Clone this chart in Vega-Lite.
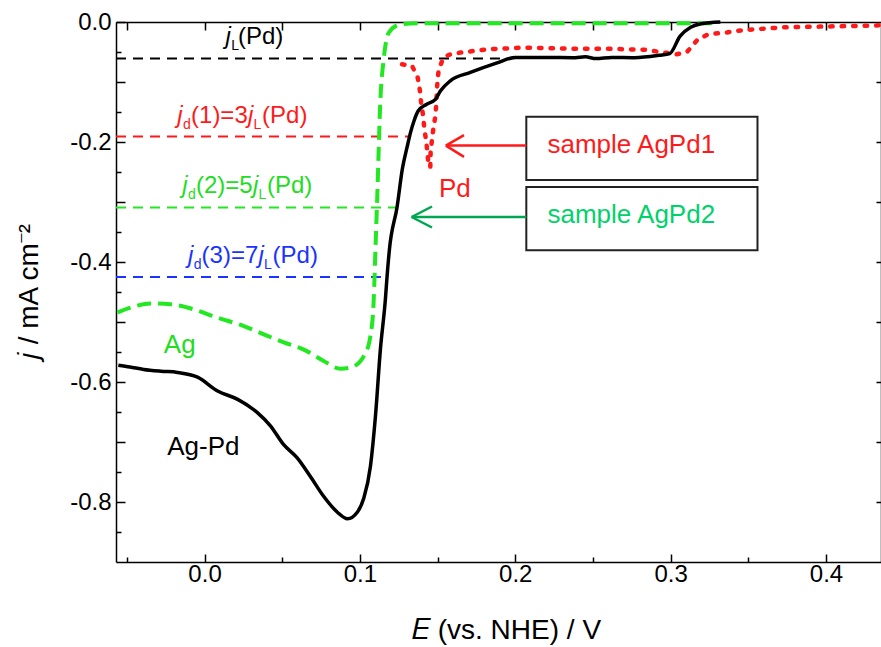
{
  "$schema": "https://vega.github.io/schema/vega-lite/v6.json",
  "width": 765,
  "height": 540,
  "autosize": "none",
  "padding": {"left": 116, "top": 22, "right": 0, "bottom": 85},
  "background": "white",
  "config": {
    "view": {"stroke": null},
    "axis": {"labelFont": "Liberation Sans", "titleFont": "Liberation Sans", "labelColor": "#000", "titleColor": "#000", "domainColor": "#000", "tickColor": "#000", "domainWidth": 1.5, "tickWidth": 1.5, "grid": false, "titleFontWeight": "normal"},
    "text": {"font": "Liberation Sans"}
  },
  "datasets": {
    "curves": [
      {"s": "Ag-Pd", "i": 1, "v": -0.0555, "j": -0.572},
      {"s": "Ag-Pd", "i": 2, "v": -0.048, "j": -0.575},
      {"s": "Ag-Pd", "i": 3, "v": -0.0392, "j": -0.579},
      {"s": "Ag-Pd", "i": 4, "v": -0.028, "j": -0.582},
      {"s": "Ag-Pd", "i": 5, "v": -0.0174, "j": -0.584},
      {"s": "Ag-Pd", "i": 6, "v": -0.0045, "j": -0.592},
      {"s": "Ag-Pd", "i": 7, "v": 0.0084, "j": -0.615},
      {"s": "Ag-Pd", "i": 8, "v": 0.0213, "j": -0.629},
      {"s": "Ag-Pd", "i": 9, "v": 0.034, "j": -0.651},
      {"s": "Ag-Pd", "i": 10, "v": 0.0424, "j": -0.673},
      {"s": "Ag-Pd", "i": 11, "v": 0.0508, "j": -0.704},
      {"s": "Ag-Pd", "i": 12, "v": 0.0595, "j": -0.726},
      {"s": "Ag-Pd", "i": 13, "v": 0.068, "j": -0.757},
      {"s": "Ag-Pd", "i": 14, "v": 0.0765, "j": -0.79},
      {"s": "Ag-Pd", "i": 15, "v": 0.0855, "j": -0.817},
      {"s": "Ag-Pd", "i": 16, "v": 0.092, "j": -0.828},
      {"s": "Ag-Pd", "i": 17, "v": 0.0983, "j": -0.817},
      {"s": "Ag-Pd", "i": 18, "v": 0.1023, "j": -0.795},
      {"s": "Ag-Pd", "i": 19, "v": 0.1068, "j": -0.74},
      {"s": "Ag-Pd", "i": 20, "v": 0.11, "j": -0.657},
      {"s": "Ag-Pd", "i": 21, "v": 0.1132, "j": -0.545},
      {"s": "Ag-Pd", "i": 22, "v": 0.1164, "j": -0.462},
      {"s": "Ag-Pd", "i": 23, "v": 0.1175, "j": -0.423},
      {"s": "Ag-Pd", "i": 24, "v": 0.119, "j": -0.379},
      {"s": "Ag-Pd", "i": 25, "v": 0.124, "j": -0.307},
      {"s": "Ag-Pd", "i": 26, "v": 0.1273, "j": -0.245},
      {"s": "Ag-Pd", "i": 27, "v": 0.1305, "j": -0.207},
      {"s": "Ag-Pd", "i": 28, "v": 0.1326, "j": -0.184},
      {"s": "Ag-Pd", "i": 29, "v": 0.1348, "j": -0.165},
      {"s": "Ag-Pd", "i": 30, "v": 0.1376, "j": -0.148},
      {"s": "Ag-Pd", "i": 31, "v": 0.143, "j": -0.137},
      {"s": "Ag-Pd", "i": 32, "v": 0.1486, "j": -0.129},
      {"s": "Ag-Pd", "i": 33, "v": 0.1518, "j": -0.115},
      {"s": "Ag-Pd", "i": 34, "v": 0.1582, "j": -0.098},
      {"s": "Ag-Pd", "i": 35, "v": 0.1711, "j": -0.084},
      {"s": "Ag-Pd", "i": 36, "v": 0.1883, "j": -0.068},
      {"s": "Ag-Pd", "i": 37, "v": 0.2, "j": -0.059},
      {"s": "Ag-Pd", "i": 38, "v": 0.22, "j": -0.059},
      {"s": "Ag-Pd", "i": 39, "v": 0.2386, "j": -0.0595},
      {"s": "Ag-Pd", "i": 40, "v": 0.245, "j": -0.058},
      {"s": "Ag-Pd", "i": 41, "v": 0.252, "j": -0.061},
      {"s": "Ag-Pd", "i": 42, "v": 0.262, "j": -0.059},
      {"s": "Ag-Pd", "i": 43, "v": 0.2768, "j": -0.0595},
      {"s": "Ag-Pd", "i": 44, "v": 0.2926, "j": -0.0555},
      {"s": "Ag-Pd", "i": 45, "v": 0.2994, "j": -0.0527},
      {"s": "Ag-Pd", "i": 46, "v": 0.3061, "j": -0.0235},
      {"s": "Ag-Pd", "i": 47, "v": 0.3129, "j": -0.0088},
      {"s": "Ag-Pd", "i": 48, "v": 0.3196, "j": -0.003},
      {"s": "Ag-Pd", "i": 49, "v": 0.332, "j": 0},
      {"s": "Ag", "i": 1, "v": -0.0561, "j": -0.484},
      {"s": "Ag", "i": 2, "v": -0.0476, "j": -0.476},
      {"s": "Ag", "i": 3, "v": -0.0347, "j": -0.469},
      {"s": "Ag", "i": 4, "v": -0.0219, "j": -0.4705},
      {"s": "Ag", "i": 5, "v": -0.0069, "j": -0.479},
      {"s": "Ag", "i": 6, "v": 0.0082, "j": -0.4927},
      {"s": "Ag", "i": 7, "v": 0.0253, "j": -0.5067},
      {"s": "Ag", "i": 8, "v": 0.0381, "j": -0.5205},
      {"s": "Ag", "i": 9, "v": 0.051, "j": -0.534},
      {"s": "Ag", "i": 10, "v": 0.0639, "j": -0.546},
      {"s": "Ag", "i": 11, "v": 0.0767, "j": -0.565},
      {"s": "Ag", "i": 12, "v": 0.0875, "j": -0.578},
      {"s": "Ag", "i": 13, "v": 0.0939, "j": -0.576},
      {"s": "Ag", "i": 14, "v": 0.1025, "j": -0.557},
      {"s": "Ag", "i": 15, "v": 0.1068, "j": -0.523},
      {"s": "Ag", "i": 16, "v": 0.1089, "j": -0.462},
      {"s": "Ag", "i": 17, "v": 0.11, "j": -0.379},
      {"s": "Ag", "i": 18, "v": 0.1111, "j": -0.296},
      {"s": "Ag", "i": 19, "v": 0.1132, "j": -0.129},
      {"s": "Ag", "i": 20, "v": 0.1153, "j": -0.062},
      {"s": "Ag", "i": 21, "v": 0.1185, "j": -0.018},
      {"s": "Ag", "i": 22, "v": 0.126, "j": -0.004},
      {"s": "Ag", "i": 23, "v": 0.1368, "j": -0.002},
      {"s": "Ag", "i": 24, "v": 0.33, "j": -0.002},
      {"s": "Pd", "i": 1, "v": 0.1271, "j": -0.0705},
      {"s": "Pd", "i": 2, "v": 0.1336, "j": -0.0733},
      {"s": "Pd", "i": 3, "v": 0.1372, "j": -0.0927},
      {"s": "Pd", "i": 4, "v": 0.1385, "j": -0.1122},
      {"s": "Pd", "i": 5, "v": 0.1394, "j": -0.1343},
      {"s": "Pd", "i": 6, "v": 0.1407, "j": -0.1567},
      {"s": "Pd", "i": 7, "v": 0.1415, "j": -0.1788},
      {"s": "Pd", "i": 8, "v": 0.1428, "j": -0.201},
      {"s": "Pd", "i": 9, "v": 0.1436, "j": -0.2233},
      {"s": "Pd", "i": 10, "v": 0.1443, "j": -0.24},
      {"s": "Pd", "i": 11, "v": 0.1453, "j": -0.2422},
      {"s": "Pd", "i": 12, "v": 0.1455, "j": -0.2177},
      {"s": "Pd", "i": 13, "v": 0.1464, "j": -0.1955},
      {"s": "Pd", "i": 14, "v": 0.1475, "j": -0.1733},
      {"s": "Pd", "i": 15, "v": 0.1486, "j": -0.1567},
      {"s": "Pd", "i": 16, "v": 0.1492, "j": -0.1343},
      {"s": "Pd", "i": 17, "v": 0.1497, "j": -0.1067},
      {"s": "Pd", "i": 18, "v": 0.1507, "j": -0.0788},
      {"s": "Pd", "i": 19, "v": 0.1539, "j": -0.0593},
      {"s": "Pd", "i": 20, "v": 0.1582, "j": -0.0538},
      {"s": "Pd", "i": 21, "v": 0.1646, "j": -0.051},
      {"s": "Pd", "i": 22, "v": 0.1732, "j": -0.0483},
      {"s": "Pd", "i": 23, "v": 0.1818, "j": -0.0455},
      {"s": "Pd", "i": 24, "v": 0.1925, "j": -0.0443},
      {"s": "Pd", "i": 25, "v": 0.2053, "j": -0.0427},
      {"s": "Pd", "i": 26, "v": 0.2386, "j": -0.0447},
      {"s": "Pd", "i": 27, "v": 0.2611, "j": -0.0447},
      {"s": "Pd", "i": 28, "v": 0.2836, "j": -0.0463},
      {"s": "Pd", "i": 29, "v": 0.2971, "j": -0.0513},
      {"s": "Pd", "i": 30, "v": 0.3039, "j": -0.0538},
      {"s": "Pd", "i": 31, "v": 0.3106, "j": -0.0497},
      {"s": "Pd", "i": 32, "v": 0.3174, "j": -0.0293},
      {"s": "Pd", "i": 33, "v": 0.3241, "j": -0.0205},
      {"s": "Pd", "i": 34, "v": 0.3354, "j": -0.0177},
      {"s": "Pd", "i": 35, "v": 0.3466, "j": -0.0135},
      {"s": "Pd", "i": 36, "v": 0.3736, "j": -0.0088},
      {"s": "Pd", "i": 37, "v": 0.3961, "j": -0.0077},
      {"s": "Pd", "i": 38, "v": 0.4277, "j": -0.006},
      {"s": "Pd", "i": 39, "v": 0.4354, "j": -0.0055}
    ],
    "hlines": [
      {"g": "jL", "v1": -0.057, "v2": 0.195, "j": -0.061},
      {"g": "jd1", "v1": -0.057, "v2": 0.1328, "j": -0.191},
      {"g": "jd2", "v1": -0.057, "v2": 0.1232, "j": -0.309},
      {"g": "jd3", "v1": -0.057, "v2": 0.1175, "j": -0.425}
    ],
    "ann_j": [
      {"g": "jL", "v": 0.0135, "j": -0.0365, "t": "j"},
      {"g": "jd1", "v": -0.0175, "j": -0.1685, "t": "j"},
      {"g": "jd1", "v": 0.028, "j": -0.1685, "t": "j"},
      {"g": "jd2", "v": -0.0143, "j": -0.2848, "t": "j"},
      {"g": "jd2", "v": 0.0312, "j": -0.2848, "t": "j"},
      {"g": "jd3", "v": -0.0107, "j": -0.4015, "t": "j"},
      {"g": "jd3", "v": 0.0348, "j": -0.4015, "t": "j"}
    ],
    "ann_sub": [
      {"g": "jL", "v": 0.0172, "j": -0.0463, "t": "L"},
      {"g": "jd1", "v": -0.0138, "j": -0.1782, "t": "d"},
      {"g": "jd1", "v": 0.0315, "j": -0.1782, "t": "L"},
      {"g": "jd2", "v": -0.0106, "j": -0.2948, "t": "d"},
      {"g": "jd2", "v": 0.0347, "j": -0.2948, "t": "L"},
      {"g": "jd3", "v": -0.007, "j": -0.4115, "t": "d"},
      {"g": "jd3", "v": 0.0383, "j": -0.4115, "t": "L"}
    ],
    "ann_main": [
      {"g": "jL", "v": 0.0215, "j": -0.0365, "t": "(Pd)"},
      {"g": "jd1", "v": -0.0087, "j": -0.1685, "t": "(1)=3"},
      {"g": "jd1", "v": 0.037, "j": -0.1685, "t": "(Pd)"},
      {"g": "jd2", "v": -0.0055, "j": -0.2848, "t": "(2)=5"},
      {"g": "jd2", "v": 0.0402, "j": -0.2848, "t": "(Pd)"},
      {"g": "jd3", "v": -0.0019, "j": -0.4015, "t": "(3)=7"},
      {"g": "jd3", "v": 0.0438, "j": -0.4015, "t": "(Pd)"}
    ],
    "curve_labels": [
      {"g": "Pd", "v": 0.1509, "j": -0.2918, "t": "Pd"},
      {"g": "Ag", "v": -0.0262, "j": -0.5515, "t": "Ag"},
      {"g": "Ag-Pd", "v": -0.024, "j": -0.721, "t": "Ag-Pd"}
    ],
    "boxes": [
      {"b": "AgPd1", "v1": 0.2071, "v2": 0.3559, "j1": -0.158, "j2": -0.2633},
      {"b": "AgPd2", "v1": 0.2071, "v2": 0.3559, "j1": -0.275, "j2": -0.3803}
    ],
    "box_labels": [
      {"g": "AgPd1", "v": 0.2207, "j": -0.2188, "t": "sample AgPd1"},
      {"g": "AgPd2", "v": 0.2207, "j": -0.3355, "t": "sample AgPd2"}
    ],
    "arrows": [
      {"g": "AgPd1", "v1": 0.1553, "j1": -0.206, "v2": 0.2071, "j2": -0.206},
      {"g": "AgPd1", "v1": 0.1553, "j1": -0.206, "v2": 0.167, "j2": -0.1885},
      {"g": "AgPd1", "v1": 0.1553, "j1": -0.206, "v2": 0.167, "j2": -0.2247},
      {"g": "AgPd2", "v1": 0.1333, "j1": -0.325, "v2": 0.2071, "j2": -0.325},
      {"g": "AgPd2", "v1": 0.1333, "j1": -0.325, "v2": 0.1464, "j2": -0.3075},
      {"g": "AgPd2", "v1": 0.1333, "j1": -0.325, "v2": 0.1464, "j2": -0.3425}
    ]
  },
  "resolve": {"axis": {"x": "independent", "y": "independent"}, "scale": {"color": "independent"}},
  "layer": [
    {
      "data": {"name": "curves"},
      "mark": {"type": "point", "opacity": 0},
      "encoding": {
        "x": {"field": "v", "type": "quantitative", "scale": {"domain": [-0.057, 0.4354], "nice": false, "zero": false},
              "axis": {"orient": "bottom", "values": [0, 0.1, 0.2, 0.3, 0.4], "format": ".1f", "tickSize": -8, "labelFontSize": 24, "labelPadding": 8, "title": "𝐸 (vs. NHE) / V", "titleFontSize": 28, "titlePadding": 30, "titleX": 390}},
        "y": {"field": "j", "type": "quantitative", "scale": {"domain": [-0.9, 0], "nice": false, "zero": false},
              "axis": {"orient": "left", "values": [0, -0.1, -0.2, -0.3, -0.4, -0.5, -0.6, -0.7, -0.8], "labelExpr": "round(datum.value*10) % 2 == 0 ? (datum.value == 0 ? '0.0' : '-' + format(-datum.value, '.1f')) : ''", "tickSize": -9, "labelFontSize": 24, "labelPadding": 14, "title": "𝑗 / mA cm⁻²", "titleFontSize": 28, "titlePadding": 26}}
      }
    },
    {
      "data": {"name": "curves"},
      "mark": {"type": "point", "opacity": 0},
      "encoding": {
        "x": {"field": "v", "type": "quantitative", "axis": {"orient": "bottom", "values": [-0.05, 0.05, 0.15, 0.25, 0.35], "tickSize": -5, "labels": false, "domain": false, "title": null}},
        "y": {"field": "j", "type": "quantitative", "axis": {"orient": "left", "values": [-0.05, -0.15, -0.25, -0.35, -0.45, -0.55, -0.65, -0.75, -0.85], "tickSize": -5, "labels": false, "domain": false, "title": null}}
      }
    },
    {
      "data": {"name": "curves"},
      "mark": {"type": "point", "opacity": 0},
      "encoding": {
        "x": {"field": "v", "type": "quantitative", "axis": {"orient": "top", "values": [-0.05, 0, 0.05, 0.1, 0.15, 0.2, 0.25, 0.3, 0.35, 0.4], "tickSize": -8, "labels": false, "title": null}},
        "y": {"field": "j", "type": "quantitative", "axis": {"orient": "right", "values": [-0.1, -0.2, -0.3, -0.4, -0.5, -0.6, -0.7, -0.8], "tickSize": -5, "labels": false, "title": null}}
      }
    },
    {
      "data": {"name": "hlines"},
      "mark": {"type": "rule", "strokeWidth": 2, "strokeDash": [10, 7]},
      "encoding": {
        "x": {"field": "v1", "type": "quantitative", "axis": null},
        "x2": {"field": "v2"},
        "y": {"field": "j", "type": "quantitative", "axis": null},
        "color": {"field": "g", "type": "nominal", "legend": null, "scale": {"domain": ["jL", "jd1", "jd2", "jd3"], "range": ["#000000", "#ff1a1a", "#22e822", "#1a33ff"]}}
      }
    },
    {
      "data": {"name": "curves"},
      "transform": [{"filter": "datum.s == 'Ag'"}],
      "mark": {"type": "line", "color": "#22e822", "strokeWidth": 4, "strokeDash": [14, 7], "interpolate": "monotone"},
      "encoding": {
        "x": {"field": "v", "type": "quantitative", "axis": null},
        "y": {"field": "j", "type": "quantitative", "axis": null},
        "order": {"field": "i", "type": "quantitative"}
      }
    },
    {
      "data": {"name": "curves"},
      "transform": [{"filter": "datum.s == 'Pd'"}],
      "mark": {"type": "line", "color": "#ff1a1a", "strokeWidth": 4.5, "strokeDash": [2.5, 9], "strokeCap": "round"},
      "encoding": {
        "x": {"field": "v", "type": "quantitative", "axis": null},
        "y": {"field": "j", "type": "quantitative", "axis": null},
        "order": {"field": "i", "type": "quantitative"}
      }
    },
    {
      "data": {"name": "curves"},
      "transform": [{"filter": "datum.s == 'Ag-Pd'"}],
      "mark": {"type": "line", "color": "#000000", "strokeWidth": 3.5, "strokeJoin": "round", "interpolate": "monotone"},
      "encoding": {
        "x": {"field": "v", "type": "quantitative", "axis": null},
        "y": {"field": "j", "type": "quantitative", "axis": null},
        "order": {"field": "i", "type": "quantitative"}
      }
    },
    {
      "data": {"name": "boxes"},
      "mark": {"type": "rect", "fill": "white", "stroke": "#222222", "strokeWidth": 2},
      "encoding": {
        "x": {"field": "v1", "type": "quantitative", "axis": null},
        "x2": {"field": "v2"},
        "y": {"field": "j1", "type": "quantitative", "axis": null},
        "y2": {"field": "j2"}
      }
    },
    {
      "data": {"name": "arrows"},
      "mark": {"type": "rule", "strokeWidth": 2.5},
      "encoding": {
        "x": {"field": "v1", "type": "quantitative", "axis": null},
        "x2": {"field": "v2"},
        "y": {"field": "j1", "type": "quantitative", "axis": null},
        "y2": {"field": "j2"},
        "color": {"field": "g", "type": "nominal", "legend": null, "scale": {"domain": ["AgPd1", "AgPd2"], "range": ["#ff1a1a", "#00a651"]}}
      }
    },
    {
      "data": {"name": "ann_j"},
      "mark": {"type": "text", "fontSize": 24, "fontStyle": "italic", "align": "left", "baseline": "alphabetic"},
      "encoding": {
        "x": {"field": "v", "type": "quantitative", "axis": null},
        "y": {"field": "j", "type": "quantitative", "axis": null},
        "text": {"field": "t"},
        "color": {"field": "g", "type": "nominal", "legend": null, "scale": {"domain": ["jL", "jd1", "jd2", "jd3"], "range": ["#000000", "#ff1a1a", "#22dd22", "#1a33ff"]}}
      }
    },
    {
      "data": {"name": "ann_sub"},
      "mark": {"type": "text", "fontSize": 14, "align": "left", "baseline": "alphabetic"},
      "encoding": {
        "x": {"field": "v", "type": "quantitative", "axis": null},
        "y": {"field": "j", "type": "quantitative", "axis": null},
        "text": {"field": "t"},
        "color": {"field": "g", "type": "nominal", "legend": null, "scale": {"domain": ["jL", "jd1", "jd2", "jd3"], "range": ["#000000", "#ff1a1a", "#22dd22", "#1a33ff"]}}
      }
    },
    {
      "data": {"name": "ann_main"},
      "mark": {"type": "text", "fontSize": 24, "align": "left", "baseline": "alphabetic"},
      "encoding": {
        "x": {"field": "v", "type": "quantitative", "axis": null},
        "y": {"field": "j", "type": "quantitative", "axis": null},
        "text": {"field": "t"},
        "color": {"field": "g", "type": "nominal", "legend": null, "scale": {"domain": ["jL", "jd1", "jd2", "jd3"], "range": ["#000000", "#ff1a1a", "#22dd22", "#1a33ff"]}}
      }
    },
    {
      "data": {"name": "curve_labels"},
      "mark": {"type": "text", "fontSize": 26, "align": "left", "baseline": "alphabetic"},
      "encoding": {
        "x": {"field": "v", "type": "quantitative", "axis": null},
        "y": {"field": "j", "type": "quantitative", "axis": null},
        "text": {"field": "t"},
        "color": {"field": "g", "type": "nominal", "legend": null, "scale": {"domain": ["Pd", "Ag", "Ag-Pd"], "range": ["#ff1a1a", "#22dd22", "#000000"]}}
      }
    },
    {
      "data": {"name": "box_labels"},
      "mark": {"type": "text", "fontSize": 26, "align": "left", "baseline": "alphabetic"},
      "encoding": {
        "x": {"field": "v", "type": "quantitative", "axis": null},
        "y": {"field": "j", "type": "quantitative", "axis": null},
        "text": {"field": "t"},
        "color": {"field": "g", "type": "nominal", "legend": null, "scale": {"domain": ["AgPd1", "AgPd2"], "range": ["#ff1a1a", "#00d26a"]}}
      }
    }
  ]
}
